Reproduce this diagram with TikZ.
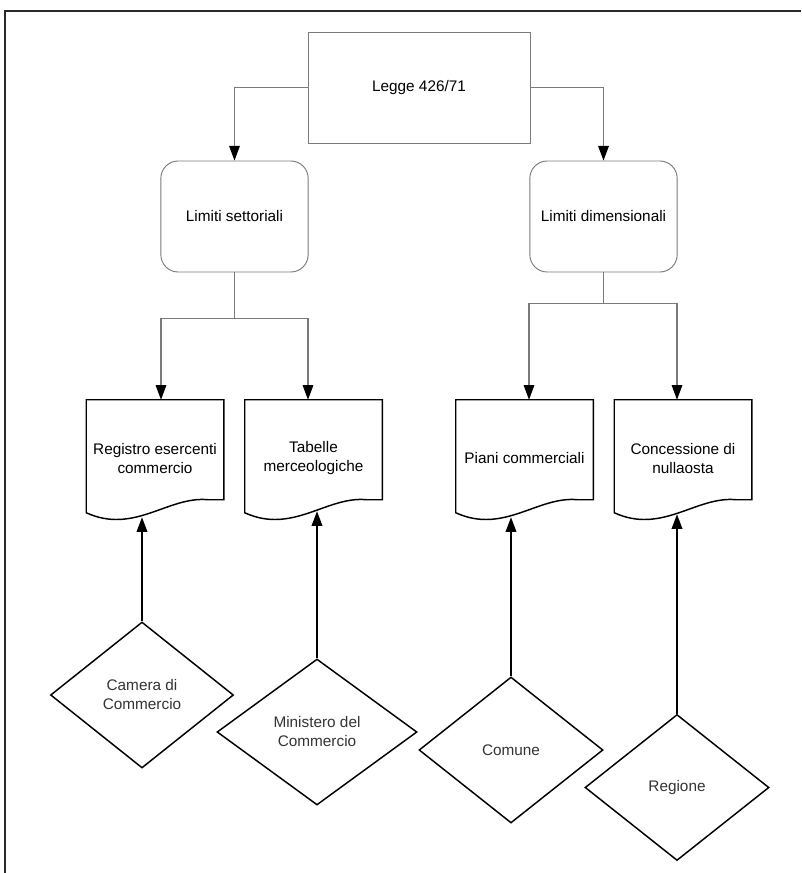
\documentclass[tikz,border=0pt]{standalone}
\usepackage{fontspec}
\setmainfont{Liberation Sans}
\usepackage{xcolor}
\usetikzlibrary{arrows.meta, shapes.geometric}
\definecolor{grigio}{HTML}{7A7A7A}
\definecolor{scuro}{HTML}{2A2A2A}
\definecolor{testo}{HTML}{333333}

% contorno a foglio con il bordo inferiore ondulato
\newcommand{\foglio}[1]{%
  \draw[bordo] (#1.north west) -- (#1.north east) -- ([shift={(0,100)}]#1.north east)
    -- ([shift={(122,100)}]#1.north west)
    .. controls ([shift={(82,96)}]#1.north west) and ([shift={(48,135)}]#1.north west)
    .. ([shift={(0,113)}]#1.north west) -- cycle;}

\begin{document}
\begin{tikzpicture}[
  x=0.75pt, y=-0.75pt,
  font=\fontsize{11.5}{14.25}\selectfont,
  cornice/.style={draw=scuro, line width=0.8pt},
  radice/.style={rectangle, draw=grigio, line width=0.7pt, minimum width=166.5pt, minimum height=83.25pt},
  limite/.style={rectangle, rounded corners=13pt, draw=grigio, line width=0.7pt, minimum width=110.5pt, minimum height=83.25pt},
  doc/.style={rectangle, inner sep=0pt, minimum width=102.75pt, minimum height=87.75pt, align=center},
  ente/.style={diamond, draw=black, line width=1.1pt, inner sep=0pt, minimum height=109.5pt, align=center, text=testo},
  bordo/.style={draw=black, line width=1.1pt},
  arr/.style={-{Triangle[length=11pt, width=8pt, color=black]}, draw=grigio, line width=0.8pt},
  arrsu/.style={-{Triangle[length=11pt, width=8pt]}, draw=black, line width=1.1pt},
]
\useasboundingbox (0,0) rectangle (801,873);

% --- Cornice ---
\draw[cornice] (801,11) -- (5,11) -- (5,873);

% --- Livello superiore ---
\node[radice] (legge) at (419,87.5) {Legge 426/71};
\node[limite] (settoriali) at (234.5,216.5) {Limiti settoriali};
\node[limite] (dimensionali) at (603.5,216.5) {Limiti dimensionali};

% --- Documenti ---
\node[doc] (registro) at (155,458.5) {Registro esercenti\\commercio};
\node[doc] (tabelle) at (313.5,458.5) {Tabelle\\merceologiche};
\node[doc] (piani) at (524.5,458.5) {Piani commerciali};
\node[doc] (concessione) at (683,458.5) {Concessione di\\nullaosta};
\foglio{registro}
\foglio{tabelle}
\foglio{piani}
\foglio{concessione}

% --- Enti ---
\node[ente, minimum width=137.25pt] (camera) at (142,695) {Camera di\\Commercio};
\node[ente, minimum width=150pt] (ministero) at (317,732) {Ministero del\\Commercio};
\node[ente, minimum width=138pt] (comune) at (511,750) {Comune};
\node[ente, minimum width=138pt] (regione) at (677,787.5) {Regione};

% --- Collegamenti dall'alto ---
\draw[arr] (legge.west) -| (settoriali.north);
\draw[arr] (legge.east) -| (dimensionali.north);
\draw[arr] (settoriali.south) -- ++(0,46) -| ([shift={(6,0)}]registro.north);
\draw[arr] (settoriali.south) -- ++(0,46) -| ([shift={(-5.5,0)}]tabelle.north);
\draw[arr] (dimensionali.south) -- ++(0,31) -| ([shift={(4.5,0)}]piani.north);
\draw[arr] (dimensionali.south) -- ++(0,31) -| ([shift={(-6,0)}]concessione.north);

% --- Collegamenti dagli enti ---
\draw[arrsu] (camera.north) -- (camera.north |- registro.south);
\draw[arrsu] (ministero.north) -- ([yshift=4.5pt]ministero.north |- tabelle.south);
\draw[arrsu] (comune.north) -- (comune.north |- piani.south);
\draw[arrsu] (regione.north) -- ([yshift=2.25pt]regione.north |- concessione.south);

\end{tikzpicture}
\end{document}
